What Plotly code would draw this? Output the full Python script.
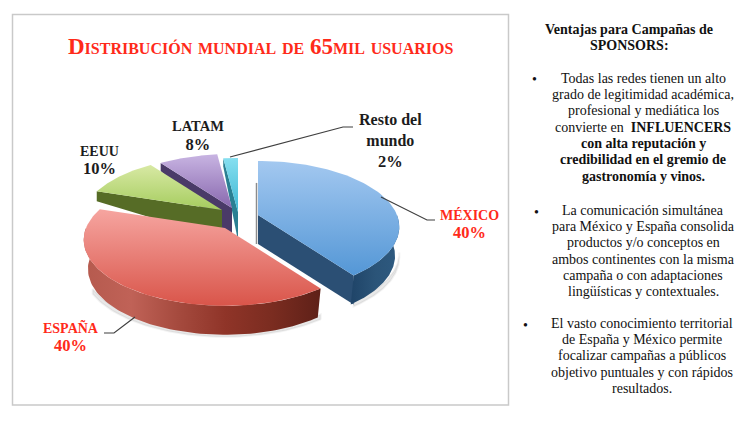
import numpy as np
import plotly.graph_objects as go

CATEGORIES = ["MÉXICO", "ESPAÑA", "EEUU", "LATAM", "Resto del<br>mundo"]
VALUES = [40, 40, 10, 8, 2]
LABEL_COLORS = ["#ff2a1a", "#ff2a1a", "#1c1c1c", "#1c1c1c", "#1c1c1c"]
LABEL_SIZES = [14, 14, 14, 14.5, 16]

TITLE = "Distribución mundial de 65mil usuarios"
HEADER = ["<b>Ventajas para Campañas de</b>", "<b>SPONSORS:</b>"]
POINT_1 = ["Todas las redes tienen un alto", "grado de legitimidad académica,", "profesional y mediática los",
           "convierte en  <b>INFLUENCERS</b>", "<b>con alta reputación y</b>", "<b>credibilidad en el gremio de</b>",
           "<b>gastronomía y vinos.</b>"]
POINT_2 = ["La comunicación simultánea", "para México y España consolida", "productos y/o conceptos en",
           "ambos continentes con la misma", "campaña o con adaptaciones", "lingüísticas y contextuales."]
POINT_3 = ["El vasto conocimiento territorial", "de España y México permite", "focalizar campañas a públicos",
           "objetivo puntuales y con rápidos", "resultados."]

# pie geometry, in image pixels
RX, RY, PERSP = 139, 63.8, 0.18
APEX = [(258, 215), (225, 228), (222, 210), (232, 208), (238, 212)]
TOP_GRAD = [("#5497d6", "#a3c8f0"), ("#d9554a", "#f6a5a0"), ("#a5cc5e", "#d8e9a4"),
            ("#8868ae", "#c8b4e2"), ("#3db6d2", "#86dff0")]
WALL_COLOR = ["#2b4f74", None, "#566c26", "#4a3a68", "#2a7f92"]
BACK_DEPTH = [None, None, 10, 8, 8]
DEPTH = 29
SERIF = "Liberation Serif"
LINE_STEP = 16.35


def project(angle, apex, radius=1.0):
    # angle in degrees, clockwise from 12 o'clock
    a = np.radians(angle)
    u, v = radius * np.sin(a), radius * np.cos(a)
    w = 1 + PERSP * v
    return apex[0] + RX * u / w, apex[1] - RY * v / w


def poly(fig, x, y, color=None, grad=None, horizontal=False, line=None):
    x = list(x) + [x[0]]
    y = list(y) + [y[0]]
    kw = dict(fillcolor=color)
    if grad:
        stops = [[i / (len(grad) - 1), c] for i, c in enumerate(grad)]
        kw = dict(fillgradient=dict(type="horizontal" if horizontal else "vertical", colorscale=stops))
    fig.add_trace(go.Scatter(x=x, y=y, mode="lines", fill="toself", hoverinfo="skip",
                             line=line or dict(width=0), **kw))


def arc_wall(fig, a0, a1, apex, grad):
    t = np.linspace(a0, a1, 80)
    x, y = project(t, apex)
    bx = apex[0] + (x - apex[0]) * 0.97
    poly(fig, list(x) + list(bx[::-1]), list(y) + list((y + DEPTH)[::-1]), grad=grad, horizontal=True)


def radial_wall(fig, angle, apex, color, back):
    x, y = project(angle, apex)
    poly(fig, [apex[0], x, x, apex[0]], [apex[1], y, y + back, apex[1] + DEPTH], color=color)


def top_face(fig, a0, a1, apex, grad):
    t = np.linspace(a0, a1, 80)
    x, y = project(t, apex)
    poly(fig, [apex[0]] + list(x), [apex[1]] + list(y), grad=grad)


def text_lines(annotations, lines, center_x, first_y):
    for n, txt in enumerate(lines):
        annotations.append(dict(x=center_x, y=first_y + n * LINE_STEP, text=txt, showarrow=False,
                                font=dict(family=SERIF, size=14, color="#111111")))


edges = np.cumsum([0] + VALUES) * 3.6
fig = go.Figure()

# soft shadow under the two big slices
for i, (a0, a1) in [(1, (144, 240)), (0, (100, 144))]:
    t = np.linspace(a0, a1, 60)
    x, y = project(t, APEX[i])
    poly(fig, list(x) + list(x[::-1]), list(y + DEPTH + 2) + list(y[::-1] + DEPTH - 3),
         color="rgba(90,90,90,0.14)", line=dict(width=2, color="rgba(90,90,90,0.07)"))

# back to front
for i in [4, 3, 2]:
    radial_wall(fig, edges[i], APEX[i], WALL_COLOR[i], BACK_DEPTH[i])
    top_face(fig, edges[i], edges[i + 1], APEX[i], TOP_GRAD[i])

arc_wall(fig, edges[1], 270, APEX[1], ["#b55a4e", "#c06257", "#a54a3e", "#8f3428", "#7a2c20", "#5e2018"])
top_face(fig, edges[1], edges[2], APEX[1], TOP_GRAD[1])

mx0, my0 = project(0, APEX[0])
fig.add_trace(go.Scatter(x=[mx0 - 1.5, APEX[0][0] - 1.5], y=[my0 + 22, APEX[0][1] + DEPTH], mode="lines",
                         line=dict(color="#8c8c8c", width=1.5), hoverinfo="skip"))
radial_wall(fig, edges[1], APEX[0], WALL_COLOR[0], DEPTH)
arc_wall(fig, 90, edges[1], APEX[0], ["#1f4468", "#2b5478", "#2e5a80"])
top_face(fig, edges[0], edges[1], APEX[0], TOP_GRAD[0])

# leader lines
LEADERS = [
    ([381, 427, 435], [197, 220, 220]),
    ([135, 114, 104], [317, 333, 333]),
    ([230, 343, 353], [157, 127, 127]),
]
for lx, ly in LEADERS:
    fig.add_trace(go.Scatter(x=lx, y=ly, mode="lines", line=dict(color="#3f3f3f", width=1.2), hoverinfo="skip"))

LABEL_POS = [(469, 224), (71, 337), (99, 161), (198, 136), (390, 141)]
annotations = []
for i, name in enumerate(CATEGORIES):
    txt = "<b>{}<br><span style=\"font-size:16.5px\">{}%</span></b>".format(name, VALUES[i])
    annotations.append(dict(x=LABEL_POS[i][0], y=LABEL_POS[i][1], text=txt,
                            showarrow=False, xanchor="center", yanchor="middle",
                            font=dict(family=SERIF, size=LABEL_SIZES[i], color=LABEL_COLORS[i])))

annotations.append(dict(x=260, y=46, text="<b>{}</b>".format(TITLE), showarrow=False,
                        font=dict(family=SERIF, size=23, color="#ff2a1a", variant="small-caps")))

text_lines(annotations, HEADER, 629, 29)
BLOCKS = [(POINT_1, 643, 78), (POINT_2, 643, 210), (POINT_3, 642, 323)]
BULLET_POS = [(534, 79), (536, 212), (525, 325)]
for (lines, cx, first_y), (px, py) in zip(BLOCKS, BULLET_POS):
    text_lines(annotations, lines, cx, first_y)
    annotations.append(dict(x=px, y=py, text="•", showarrow=False,
                            font=dict(family=SERIF, size=14, color="#111111")))

fig.update_layout(
    width=748, height=432, margin=dict(l=0, r=0, t=0, b=0),
    paper_bgcolor="white", plot_bgcolor="white", showlegend=False,
    xaxis=dict(range=[0, 748], visible=False, fixedrange=True),
    yaxis=dict(range=[432, 0], visible=False, fixedrange=True),
    annotations=annotations,
    shapes=[dict(type="rect", x0=12.5, y0=14.5, x1=508.5, y1=405, line=dict(color="#c9c9c9", width=1.5))],
)

fig.write_html("out.html", config=dict(displayModeBar=False),
               post_script="document.body.style.margin='0';")
